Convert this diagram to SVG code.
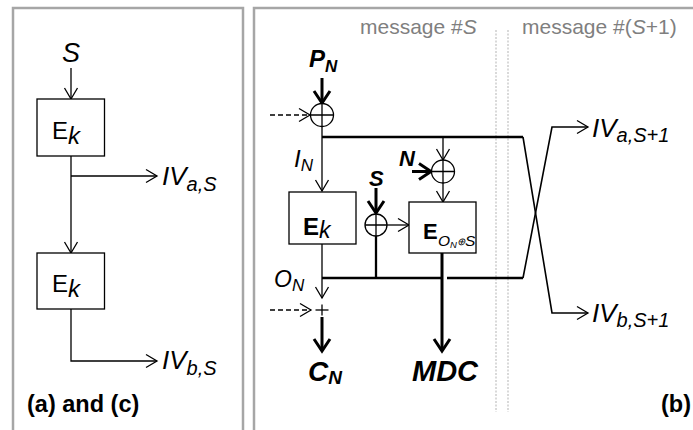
<svg xmlns="http://www.w3.org/2000/svg" width="693" height="430" viewBox="0 0 693 430">
<style>
text{font-family:"Liberation Sans",Arial,sans-serif;fill:#000}
.it{font-style:italic}
.b{font-weight:bold}
.gray{fill:#7f7f7f}
.frame{fill:none;stroke:#a6a6a6;stroke-width:2.5}
.box{fill:#fff;stroke:#000;stroke-width:1.3}
.xor{fill:#fff;stroke:#000;stroke-width:1.3}
.thin{fill:none;stroke:#000;stroke-width:1.3}
.med{fill:none;stroke:#000;stroke-width:1.6}
.thick{fill:none;stroke:#000;stroke-width:2.3}
.heavy{fill:none;stroke:#000;stroke-width:3}
.dash{fill:none;stroke:#000;stroke-width:1.5;stroke-dasharray:5,3}
.dot{fill:none;stroke:#b3b3b3;stroke-width:1;stroke-dasharray:2,1.5}
</style>
<defs>
<marker id="a" markerUnits="userSpaceOnUse" viewBox="-14 -9 16 18" markerWidth="16" markerHeight="18" refX="0" refY="0" orient="auto" overflow="visible">
<path d="M-11,-6.5 L0,0 L-11,6.5" fill="none" stroke="#000" stroke-width="1.3"/>
</marker>
<marker id="A" markerUnits="userSpaceOnUse" viewBox="-14 -10 16 20" markerWidth="16" markerHeight="20" refX="0" refY="0" orient="auto" overflow="visible">
<path d="M-12,-8 L0,0 L-12,8" fill="none" stroke="#000" stroke-width="3"/>
</marker>
</defs>
<rect width="693" height="430" fill="#fff"/>
<!-- panel frames -->
<path class="frame" d="M13,440 V8 H243 V440"/>
<path class="frame" d="M254,440 V8 H700"/>
<line class="dot" x1="496" y1="30" x2="496" y2="412"/>
<line class="dot" x1="508" y1="30" x2="508" y2="412"/>
<text class="gray" x="360" y="34" font-size="21">message #<tspan class="it">S</tspan></text>
<text class="gray" x="522" y="34" font-size="21">message #(<tspan class="it">S</tspan>+1)</text>

<!-- connectors -->
<g id="connectors">
<!-- panel a -->
<line class="thin" x1="71" y1="68" x2="71" y2="99" marker-end="url(#a)"/>
<line class="thin" x1="71" y1="156" x2="71" y2="253" marker-end="url(#a)"/>
<line class="thin" x1="71" y1="176" x2="157" y2="176" marker-end="url(#a)"/>
<polyline class="thin" points="71,309 71,361 157,361" marker-end="url(#a)"/>
<!-- panel b -->
<line class="heavy" x1="322" y1="78" x2="322" y2="103" marker-end="url(#A)"/>
<line class="dash" x1="270" y1="115" x2="310" y2="115" marker-end="url(#a)"/>
<line class="thin" x1="322" y1="126.5" x2="322" y2="191" marker-end="url(#a)"/>
<line class="thick" x1="322" y1="137" x2="523" y2="137"/>
<line class="thin" x1="443" y1="137" x2="443" y2="160" marker-end="url(#a)"/>
<line class="heavy" x1="412" y1="171.5" x2="431" y2="171.5" marker-end="url(#A)"/>
<line class="thin" x1="443" y1="183" x2="443" y2="202" marker-end="url(#a)"/>
<line class="heavy" x1="376" y1="188" x2="376" y2="213" marker-end="url(#A)"/>
<line class="thin" x1="387" y1="225" x2="409" y2="225" marker-end="url(#a)"/>
<line class="thick" x1="376" y1="236" x2="376" y2="278"/>
<line class="thin" x1="322" y1="244" x2="322" y2="298" marker-end="url(#a)"/>
<line class="thick" x1="322" y1="278" x2="442" y2="278"/>
<line class="thick" x1="447" y1="278" x2="523" y2="278"/>
<line class="heavy" x1="442" y1="253" x2="442" y2="351" marker-end="url(#A)"/>
<line class="dash" x1="270" y1="310" x2="311" y2="310" marker-end="url(#a)"/>
<line class="thin" x1="315.5" y1="310" x2="328.5" y2="310"/>
<line class="thin" x1="322" y1="304.5" x2="322" y2="315.5"/>
<line class="heavy" x1="322" y1="317" x2="322" y2="351" marker-end="url(#A)"/>
<polyline class="med" points="523,137 552,313 588,313" marker-end="url(#a)"/>
<polyline class="med" points="523,278 552,127 588,127" marker-end="url(#a)"/>
</g>

<!-- panel a nodes -->
<g id="a-S"><text class="it" x="71" y="62" font-size="27" text-anchor="middle">S</text></g>
<g id="a-Ek1">
<rect class="box" x="37" y="99" width="67.5" height="57"/>
<text x="52" y="138.5" font-size="24">E<tspan class="it" dy="5">k</tspan></text>
</g>
<g id="a-Ek2">
<rect class="box" x="37" y="253" width="67.5" height="56"/>
<text x="52" y="291.5" font-size="24">E<tspan class="it" dy="5">k</tspan></text>
</g>
<g id="a-IVa"><text class="it" x="162" y="185" font-size="26">IV<tspan font-size="20" dy="6">a,S</tspan></text></g>
<g id="a-IVb"><text class="it" x="162" y="369" font-size="26">IV<tspan font-size="20" dy="6">b,S</tspan></text></g>
<g id="a-label"><text class="b" x="27" y="412" font-size="23.5">(a) and (c)</text></g>

<!-- panel b nodes -->
<g id="b-PN"><text class="b it" x="309" y="67" font-size="24">P<tspan font-size="17" dy="5">N</tspan></text></g>
<g id="b-xor1"><circle class="xor" cx="322" cy="115" r="11.5"/><path class="thin" d="M310.5,115 H333.5 M322,103.5 V126.5"/></g>
<g id="b-IN"><text class="it" x="294" y="167" font-size="24">I<tspan font-size="17" dy="4">N</tspan></text></g>
<g id="b-Ek">
<rect class="box" x="289" y="192" width="67" height="52"/>
<text class="b" x="303" y="235" font-size="24">E<tspan class="it" font-weight="normal" font-size="23" dy="3">k</tspan></text>
</g>
<g id="b-S"><text class="b it" x="369" y="186" font-size="22">S</text></g>
<g id="b-xor2"><circle class="xor" cx="376" cy="225" r="11"/><path class="thin" d="M365,225 H387 M376,214 V236"/></g>
<g id="b-N"><text class="b it" x="399" y="166" font-size="22">N</text></g>
<g id="b-xor3"><circle class="xor" cx="443" cy="171.5" r="11.5"/><path class="thin" d="M431.5,171.5 H454.5 M443,160 V183"/></g>
<g id="b-Eo">
<rect class="box" x="409" y="202" width="67" height="51"/>
<text class="b" x="423" y="239" font-size="22">E</text>
<text class="it" x="438" y="246" font-size="15.5">O<tspan font-size="9.5" dy="2">N</tspan><tspan font-size="10" dy="-3">⊕</tspan><tspan dy="1">S</tspan></text>
</g>
<g id="b-ON"><text class="it" x="274" y="287" font-size="23">O<tspan font-size="17" dy="4">N</tspan></text></g>
<g id="b-CN"><text class="b it" x="308" y="381" font-size="28">C<tspan font-size="19" dy="3">N</tspan></text></g>
<g id="b-MDC"><text class="b it" x="412" y="381" font-size="29">MDC</text></g>
<g id="b-IVa"><text class="it" x="592" y="137" font-size="26">IV<tspan font-size="20" dy="5">a,S+1</tspan></text></g>
<g id="b-IVb"><text class="it" x="592" y="322" font-size="26">IV<tspan font-size="20" dy="5">b,S+1</tspan></text></g>
<g id="b-label"><text class="b" x="661" y="412" font-size="23.5">(b)</text></g>
</svg>
